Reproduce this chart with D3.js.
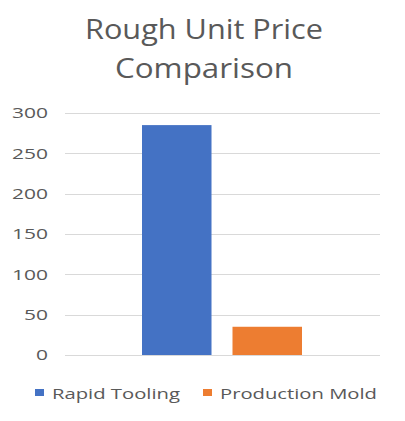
<!DOCTYPE html>
<html>
<head>
<meta charset="utf-8">
<script src="https://cdn.jsdelivr.net/npm/d3@7"></script>
<style>
  body { margin: 0; background: #fff; }
  text { font-family: "Open Sans", "DejaVu Sans", sans-serif; fill: #595959; }
</style>
</head>
<body>
<script>
var w = 405,
    h = 421;

var titleLines = ["Rough Unit Price", "Comparison"];
var seriesNames = ["Rapid Tooling", "Production Mold"];
var seriesValues = [285, 35];
var seriesColors = ["#4472C4", "#ED7D31"];
var yTicks = [0, 50, 100, 150, 200, 250, 300];

var margin = {left: 65, right: 25, top: 113, bottom: 66};

var svg = d3.select("body").append("svg")
  .attr("width", w)
  .attr("height", h);

// title, two lines
svg.selectAll("text.title")
  .data(titleLines)
  .enter()
  .append("text")
  .attr("class", "title")
  .attr("x", 204)
  .attr("y", function(d, i) { return 39 + i * 39; })
  .attr("text-anchor", "middle")
  .attr("font-size", 27)
  .attr("textLength", function(d, i) { return i === 0 ? 238 : 178; })
  .attr("lengthAdjust", "spacingAndGlyphs")
  .text(function(d) { return d; });

var y = d3.scaleLinear()
  .domain([0, 300])
  .range([h - margin.bottom, margin.top]);

var x = d3.scaleBand()
  .domain(seriesNames)
  .range([142, 302])
  .paddingInner(0.232);

// gridlines
svg.append("g")
  .selectAll("line")
  .data(yTicks)
  .enter()
  .append("line")
  .attr("x1", margin.left)
  .attr("x2", w - margin.right)
  .attr("y1", function(d) { return Math.round(y(d)) + 0.5; })
  .attr("y2", function(d) { return Math.round(y(d)) + 0.5; })
  .attr("stroke", "#d9d9d9")
  .attr("stroke-width", 1);

// y axis labels
var yAxis = d3.axisLeft(y).tickValues(yTicks).tickSize(0).tickPadding(0);
var ya = svg.append("g")
  .attr("transform", "translate(48,0)")
  .call(yAxis);
ya.select(".domain").remove();
ya.selectAll("text")
  .attr("font-size", 14)
  .attr("font-family", null)
  .attr("fill", "#595959")
  .attr("dy", "0.35em")
  .attr("textLength", function(d) { return String(d).length * 12; })
  .attr("lengthAdjust", "spacingAndGlyphs");

// bars
svg.selectAll("rect.bar")
  .data(seriesValues)
  .enter()
  .append("rect")
  .attr("class", "bar")
  .attr("x", function(d, i) { return x(seriesNames[i]); })
  .attr("width", x.bandwidth())
  .attr("y", function(d) { return y(d); })
  .attr("height", function(d) { return y(0) - y(d); })
  .attr("fill", function(d, i) { return seriesColors[i]; });

// legend
var legendX = [35, 203];
var legendW = [128, 157];
var lg = svg.selectAll("g.legend")
  .data(seriesNames)
  .enter()
  .append("g")
  .attr("class", "legend")
  .attr("transform", function(d, i) { return "translate(" + legendX[i] + ",389)"; });

lg.append("rect")
  .attr("width", 9)
  .attr("height", 7)
  .attr("fill", function(d, i) { return seriesColors[i]; });

lg.append("text")
  .attr("x", 17)
  .attr("y", 10)
  .attr("font-size", 15)
  .attr("textLength", function(d, i) { return legendW[i]; })
  .attr("lengthAdjust", "spacingAndGlyphs")
  .text(function(d) { return d; });
</script>
</body>
</html>
